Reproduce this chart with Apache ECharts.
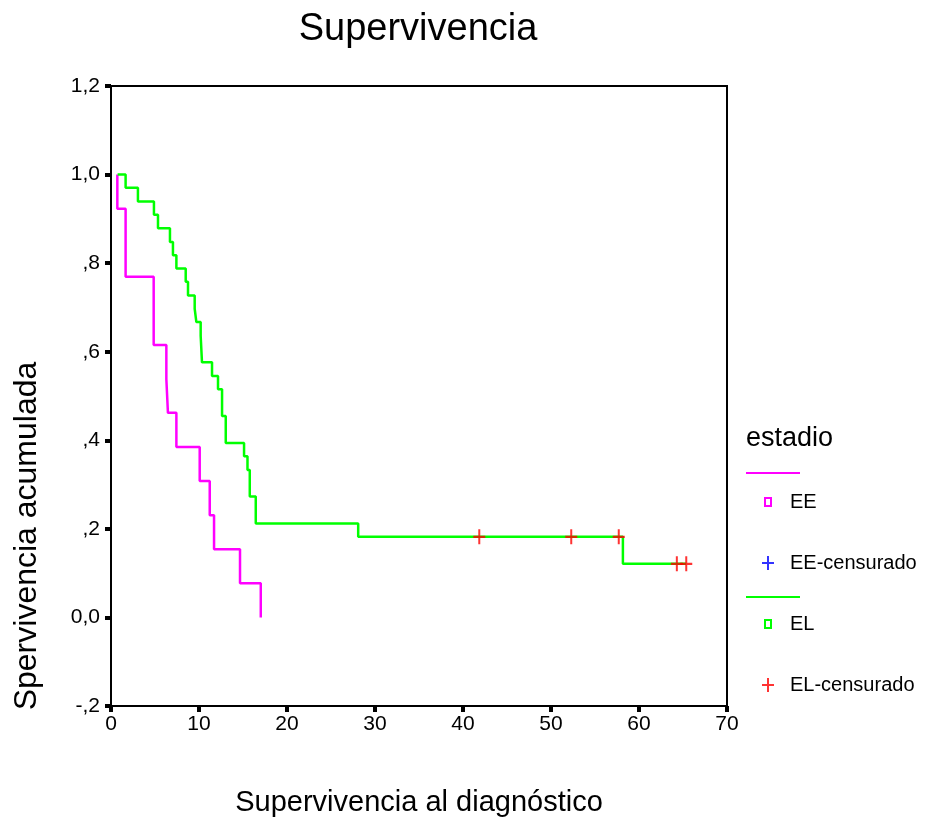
<!DOCTYPE html>
<html>
<head>
<meta charset="utf-8">
<script src="https://cdn.jsdelivr.net/npm/echarts@6/dist/echarts.min.js"></script>
<style>
html,body{margin:0;padding:0;background:#fff;}
#c{width:928px;height:823px;}
</style>
</head>
<body>
<div id="c"></div>
<script>
// ---- data ----
var eeTimes = [0.72, 0.72, 1.66, 4.85, 6.29, 6.47, 7.43, 10.08, 11.22, 11.71, 14.66, 17.02];
var eeSurv  = [1.0, 0.923, 0.769, 0.615, 0.538, 0.462, 0.385, 0.308, 0.231, 0.154, 0.077, 0.0];

var elTimes = [0.75, 1.66, 3.06, 4.88, 5.34, 6.70, 7.04, 7.43, 8.49, 8.75, 9.51, 9.70, 10.19, 10.34,
               11.48, 12.16, 12.62, 13.04, 15.12, 15.51, 15.77, 16.45, 28.09, 58.17, 65.37];
var elSurv  = [1.0, 0.970, 0.939, 0.909, 0.879, 0.848, 0.818, 0.788, 0.758, 0.727, 0.697, 0.667, 0.636, 0.576,
               0.545, 0.515, 0.455, 0.394, 0.364, 0.333, 0.273, 0.212, 0.182, 0.121, 0.121];

var elCensTimes = [41.85, 52.3, 57.7, 64.3, 65.37];
var elCensSurv  = [0.182, 0.182, 0.182, 0.121, 0.121];

var eeCensTimes = [];
var eeCensSurv  = [];

var yTickValues = [-0.2, 0.0, 0.2, 0.4, 0.6, 0.8, 1.0, 1.2];
var yTickLabels = ['-,2', '0,0', ',2', ',4', ',6', ',8', '1,0', '1,2'];

var seriesNames = ['EE', 'EE-censurado', 'EL', 'EL-censurado'];

// ---- build ----
function zip(a, b) { return a.map(function (v, i) { return [v, b[i]]; }); }
var FONT = "'Liberation Sans', Arial, sans-serif";
var plusPath = 'path://M5,0H7V6H12V8H7V14H5V8H0V6H5Z';
var squarePath = 'path://M0,0L0,0ZM12,14L12,14ZM2,2H10V12H2ZM4,4V10H8V4Z';

var chart = echarts.init(document.getElementById('c'), null, {renderer: 'canvas'});
chart.setOption({
  backgroundColor: '#ffffff',
  animation: false,
  title: {
    text: 'Supervivencia',
    left: 413, top: 6, textAlign: 'center',
    textStyle: {fontFamily: FONT, fontSize: 38, fontWeight: 'normal', color: '#000'}
  },
  grid: {
    left: 111, right: 201, top: 86, bottom: 117,
    show: true, borderColor: '#000', borderWidth: 2, backgroundColor: 'transparent'
  },
  xAxis: {
    type: 'value', min: 0, max: 70, interval: 10,
    name: 'Supervivencia al diagnóstico', nameLocation: 'middle', nameGap: 82,
    nameTextStyle: {fontFamily: FONT, fontSize: 29, color: '#000'},
    axisLine: {onZero: false, lineStyle: {color: '#000', width: 2}},
    axisTick: {show: true, length: 6, lineStyle: {color: '#000', width: 4}},
    axisLabel: {fontFamily: FONT, fontSize: 21, color: '#000', margin: 8},
    splitLine: {show: false}
  },
  yAxis: {
    type: 'value', min: -0.2, max: 1.2, interval: 0.2,
    axisLine: {show: true, onZero: false, lineStyle: {color: '#000', width: 2}},
    axisTick: {show: true, length: 6, lineStyle: {color: '#000', width: 4}},
    axisLabel: {
      fontFamily: FONT, fontSize: 21, color: '#000', margin: 11,
      formatter: function (v) {
        for (var i = 0; i < yTickValues.length; i++) {
          if (Math.abs(yTickValues[i] - v) < 1e-6) return yTickLabels[i];
        }
        return '';
      }
    },
    splitLine: {show: false}
  },
  legend: {
    orient: 'vertical', left: 757, top: 487,
    itemWidth: 12, itemHeight: 14, itemGap: 41,
    selectedMode: false,
    textStyle: {fontFamily: FONT, fontSize: 20, color: '#000', lineHeight: 20, padding: [0, 0, 0, 11]},
    data: [
      {name: seriesNames[0], icon: squarePath, itemStyle: {color: '#ff00ff', borderWidth: 0}},
      {name: seriesNames[1], icon: plusPath, itemStyle: {color: '#0000ff', borderWidth: 0}},
      {name: seriesNames[2], icon: squarePath, itemStyle: {color: '#00ff00', borderWidth: 0}},
      {name: seriesNames[3], icon: plusPath, itemStyle: {color: '#ff0000', borderWidth: 0}}
    ]
  },
  graphic: [
    {type: 'text', left: 746, top: 425,
     style: {text: 'estadio', fontFamily: FONT, fontSize: 27, fill: '#000'}},
    {type: 'line', shape: {x1: 746, y1: 473, x2: 800, y2: 473}, style: {stroke: '#ff00ff', lineWidth: 2}},
    {type: 'line', shape: {x1: 746, y1: 597, x2: 800, y2: 597}, style: {stroke: '#00ff00', lineWidth: 2}},
    {type: 'text', x: 27, y: 536, rotation: Math.PI / 2,
     style: {text: 'Spervivencia acumulada', fontFamily: FONT, fontSize: 32, fill: '#000',
             align: 'center', verticalAlign: 'middle'}}
  ],
  series: [
    {
      name: seriesNames[0], type: 'line', step: 'end', data: zip(eeTimes, eeSurv),
      showSymbol: false, symbol: 'none', lineStyle: {color: '#ff00ff', width: 2.5}, itemStyle: {color: '#ff00ff'}
    },
    {
      name: seriesNames[1], type: 'scatter', data: zip(eeCensTimes, eeCensSurv),
      symbol: plusPath, symbolSize: [12, 14], itemStyle: {color: '#0000ff'}
    },
    {
      name: seriesNames[2], type: 'line', step: 'end', data: zip(elTimes, elSurv),
      showSymbol: false, symbol: 'none', lineStyle: {color: '#00ff00', width: 2.5}, itemStyle: {color: '#00ff00'}
    },
    {
      name: seriesNames[3], type: 'scatter', data: zip(elCensTimes, elCensSurv),
      symbol: plusPath, symbolSize: [12, 15], itemStyle: {color: '#ff0000'}, z: 5
    }
  ]
});
</script>
</body>
</html>
